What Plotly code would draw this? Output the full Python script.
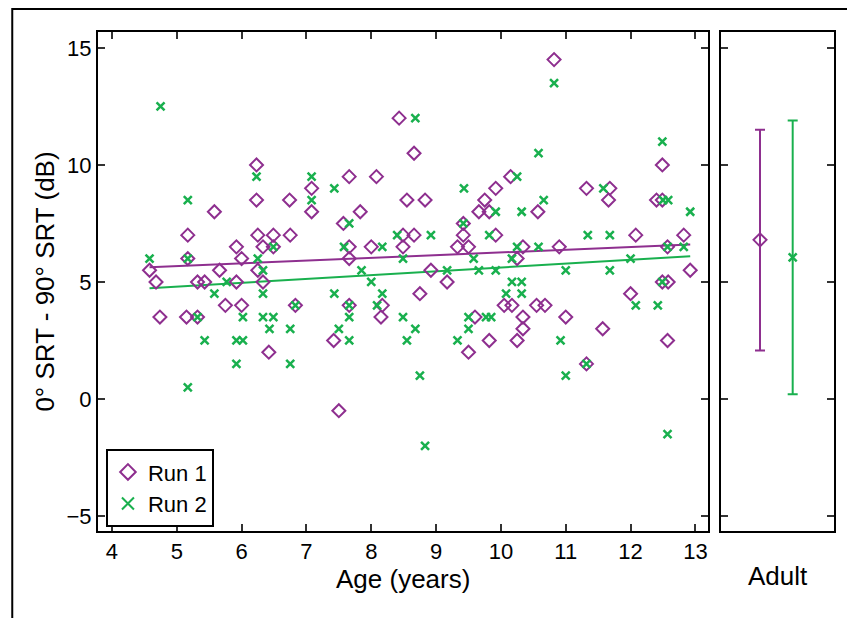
import plotly.graph_objects as go

# ---- data ----
run1_age = [4.58, 4.68, 4.74, 5.17, 5.17, 5.15, 5.32, 5.43, 5.32, 5.58, 5.66, 5.75, 5.92, 5.92, 6.0, 6.0,
            6.23, 6.23, 6.25, 6.25, 6.33, 6.33, 6.42, 6.49, 6.49, 6.74, 6.75, 6.83, 7.08, 7.08,
            7.42, 7.5, 7.57, 7.66, 7.66, 7.66, 7.66, 7.83, 8.0, 8.08, 8.17, 8.15, 8.43, 8.49, 8.49,
            8.55, 8.66, 8.66, 8.75, 8.83, 8.92, 9.17, 9.33, 9.42, 9.42, 9.5, 9.5, 9.6, 9.66, 9.75,
            9.82, 9.82, 9.92, 9.92, 10.05, 10.15, 10.17, 10.25, 10.25, 10.34, 10.34, 10.34, 10.55,
            10.57, 10.68, 10.82, 10.9, 11.0, 11.32, 11.32, 11.57, 11.66, 11.68, 12.0, 12.08, 12.4,
            12.49, 12.49, 12.49, 12.57, 12.58, 12.57, 12.82, 12.92]
run1_val = [5.5, 5.0, 3.5, 7.0, 6.0, 3.5, 5.0, 5.0, 3.5, 8.0, 5.5, 4.0, 6.5, 5.0, 6.0, 4.0,
            10.0, 8.5, 7.0, 5.5, 6.5, 5.0, 2.0, 7.0, 6.5, 8.5, 7.0, 4.0, 9.0, 8.0,
            2.5, -0.5, 7.5, 9.5, 6.5, 6.0, 4.0, 8.0, 6.5, 9.5, 4.0, 3.5, 12.0, 7.0, 6.5,
            8.5, 10.5, 7.0, 4.5, 8.5, 5.5, 5.0, 6.5, 7.5, 7.0, 6.5, 2.0, 3.5, 8.0, 8.5,
            8.0, 2.5, 9.0, 7.0, 4.0, 9.5, 4.0, 6.0, 2.5, 6.5, 3.5, 3.0, 4.0,
            8.0, 4.0, 14.5, 6.5, 3.5, 9.0, 1.5, 3.0, 8.5, 9.0, 4.5, 7.0, 8.5,
            10.0, 8.5, 5.0, 6.5, 5.0, 2.5, 7.0, 5.5]

run2_age = [4.58, 4.75, 5.17, 5.17, 5.17, 5.32, 5.43, 5.58, 5.77, 5.92, 5.92, 6.02, 6.02, 6.23, 6.25,
            6.33, 6.33, 6.33, 6.43, 6.49, 6.49, 6.75, 6.75, 6.83, 7.08, 7.08, 7.43, 7.43, 7.5,
            7.58, 7.66, 7.66, 7.66, 7.66, 7.85, 8.0, 8.09, 8.17, 8.17, 8.4, 8.49, 8.49, 8.55,
            8.68, 8.68, 8.75, 8.83, 8.92, 9.17, 9.33, 9.42, 9.43, 9.5, 9.5, 9.58, 9.66, 9.77,
            9.82, 9.85, 9.92, 9.92, 10.08, 10.17, 10.17, 10.25, 10.25, 10.32, 10.32, 10.32,
            10.58, 10.58, 10.66, 10.82, 10.92, 11.0, 11.0, 11.32, 11.34, 11.58, 11.68, 11.68,
            12.0, 12.08, 12.42, 12.49, 12.5, 12.49, 12.57, 12.58, 12.57, 12.82, 12.92]
run2_val = [6.0, 12.5, 8.5, 6.0, 0.5, 3.5, 2.5, 4.5, 5.0, 2.5, 1.5, 3.5, 2.5, 9.5, 6.0,
            5.5, 4.5, 3.5, 3.0, 6.5, 3.5, 3.0, 1.5, 4.0, 9.5, 8.5, 9.0, 4.5, 3.0,
            6.5, 7.5, 4.0, 3.5, 2.5, 5.5, 5.0, 4.0, 6.5, 4.5, 7.0, 6.0, 3.5, 2.5,
            12.0, 3.0, 1.0, -2.0, 7.0, 5.5, 2.5, 7.5, 9.0, 3.5, 3.0, 6.0, 5.5, 3.5,
            7.0, 3.5, 8.0, 5.5, 4.5, 6.0, 5.0, 9.5, 6.5, 8.0, 5.0, 4.5,
            10.5, 6.5, 8.5, 13.5, 2.5, 5.5, 1.0, 1.5, 7.0, 9.0, 7.0, 5.5,
            6.0, 4.0, 4.0, 11.0, 8.5, 5.0, 6.5, 8.5, -1.5, 6.5, 8.0]

fit_age = [4.58, 12.92]
fit_run1 = [5.63, 6.6]
fit_run2 = [4.73, 6.1]

adult_groups = ["Run 1", "Run 2"]
adult_mean = [6.8, 6.05]
adult_low = [2.07, 0.2]
adult_high = [11.5, 11.9]

x_ticks = [4, 5, 6, 7, 8, 9, 10, 11, 12, 13]
y_ticks = [-5, 0, 5, 10, 15]

PURPLE = "#8E2F8F"
GREEN = "#19B04E"
FONT = "Liberation Sans, Arial, sans-serif"

fig = go.Figure()

fig.add_trace(go.Scatter(x=fit_age, y=fit_run1, mode="lines",
                         line=dict(color=PURPLE, width=2), showlegend=False, hoverinfo="skip"))
fig.add_trace(go.Scatter(x=fit_age, y=fit_run2, mode="lines",
                         line=dict(color=GREEN, width=2), showlegend=False, hoverinfo="skip"))
fig.add_trace(go.Scatter(x=run1_age, y=run1_val, mode="markers", name="Run 1",
                         marker=dict(symbol="diamond-open", size=10, color=PURPLE,
                                     line=dict(width=2, color=PURPLE))))
fig.add_trace(go.Scatter(x=run2_age, y=run2_val, mode="markers", name="Run 2",
                         marker=dict(symbol="x-thin-open", size=8, color=GREEN,
                                     line=dict(width=2.5, color=GREEN))))

# adult panel
adult_pos = [1.03, 1.9]
adult_syms = ["diamond-open", "x-thin-open"]
adult_cols = [PURPLE, GREEN]
for i in range(2):
    fig.add_trace(go.Scatter(
        x=[adult_pos[i]], y=[adult_mean[i]], mode="markers", xaxis="x2", yaxis="y2",
        showlegend=False, name=adult_groups[i],
        marker=dict(symbol=adult_syms[i], size=10 if i == 0 else 8, color=adult_cols[i],
                    line=dict(width=2 if i == 0 else 2.5, color=adult_cols[i])),
        error_y=dict(type="data", symmetric=False,
                     array=[adult_high[i] - adult_mean[i]],
                     arrayminus=[adult_mean[i] - adult_low[i]],
                     color=adult_cols[i], thickness=2, width=5)))

axis_common = dict(showline=True, linecolor="black", linewidth=2, mirror="allticks",
                   ticks="inside", ticklen=7, tickwidth=1.5, tickcolor="#333",
                   showgrid=False, zeroline=False)

fig.update_layout(
    width=847, height=618,
    paper_bgcolor="white", plot_bgcolor="white",
    margin=dict(l=98, r=11, t=32, b=87),
    font=dict(family=FONT, size=22, color="black"),
    xaxis=dict(domain=[0, 0.8293], range=[3.785, 13.2], tickvals=x_ticks,
               title=dict(text="Age (years)", font=dict(size=26), standoff=4), **axis_common),
    yaxis=dict(range=[-5.64, 15.68], tickvals=y_ticks,
               title=dict(text="0° SRT - 90° SRT (dB)", font=dict(size=26), standoff=4),
               **axis_common),
    xaxis2=dict(domain=[0.8469, 1], range=[0, 3], anchor="y2", showticklabels=False,
                showline=True, linecolor="black", linewidth=2, mirror=True, ticks="",
                showgrid=False, zeroline=False,
                title=dict(text="Adult", font=dict(size=26), standoff=35)),
    yaxis2=dict(range=[-5.64, 15.68], tickvals=y_ticks, anchor="x2", showticklabels=False,
                **axis_common),
    legend=dict(x=0.0108, y=0.164, xanchor="left", yanchor="top",
                bordercolor="black", borderwidth=2, bgcolor="white",
                font=dict(size=22), itemsizing="constant", tracegroupgap=0),
    shapes=[dict(type="rect", xref="paper", yref="paper",
                 x0=-0.1165, y0=-0.3, x1=1.2, y1=1.046,
                 line=dict(color="black", width=2), fillcolor="rgba(0,0,0,0)", layer="above")],
)

fig.write_html("out.html", config={"displayModeBar": False},
               post_script="document.body.style.margin='0px';")
